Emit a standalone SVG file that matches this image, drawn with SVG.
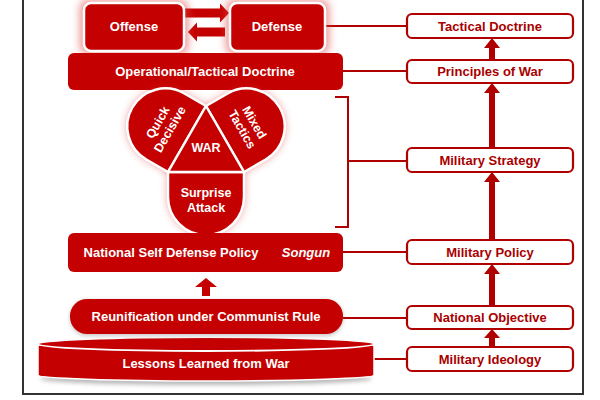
<svg xmlns="http://www.w3.org/2000/svg" width="600" height="400" viewBox="0 0 600 400">
<defs>
<style>
.red{fill:#c40000}
.wt{font-family:"Liberation Sans",Arial,sans-serif;font-weight:bold;font-size:13px;fill:#ffffff;text-anchor:middle}
.lt{font-size:12.5px}
.rt{font-family:"Liberation Sans",Arial,sans-serif;font-weight:bold;font-size:13px;fill:#a80000;text-anchor:middle}
.rbox{fill:#ffffff;stroke:#b00000;stroke-width:2.2}
.conn{stroke:#b00000;stroke-width:2;fill:none}
.arr{fill:#b00000}
.lobe{fill:#c40000;stroke:#ffffff;stroke-width:2.5;stroke-linejoin:round}
</style>
<filter id="glow" x="-30%" y="-30%" width="160%" height="160%">
<feGaussianBlur stdDeviation="4"/>
</filter>
<filter id="soft" x="-10%" y="-50%" width="120%" height="200%">
<feGaussianBlur stdDeviation="2"/>
</filter>
</defs>
<rect x="0" y="0" width="600" height="400" fill="#ffffff"/>
<rect x="23" y="-10" width="560" height="404" fill="none" stroke="#333333" stroke-width="2"/>

<g id="connectors">
<line class="conn" x1="325" y1="26" x2="407" y2="26"/>
<line class="conn" x1="343" y1="71" x2="407" y2="71"/>
<path class="conn" d="M335,97 H348 V227 H335 M348,161 H407" stroke-width="2.5"/>
<line class="conn" x1="343" y1="252" x2="407" y2="252"/>
<line class="conn" x1="343" y1="318" x2="407" y2="318"/>
<line class="conn" x1="372" y1="359" x2="407" y2="359"/>
<path class="arr" d="M489,60 V48 H484 L492,38 L500,48 H495 V60 Z"/>
<path class="arr" d="M489,148 V93 H484 L492,83 L500,93 H495 V148 Z"/>
<path class="arr" d="M489,240 V182 H484 L492,172 L500,182 H495 V240 Z"/>
<path class="arr" d="M489,306 V274 H484 L492,264 L500,274 H495 V306 Z"/>
<path class="arr" d="M489,347 V338 H484 L492,329 L500,338 H495 V347 Z"/>
<path class="red" d="M185,8.5 H220 V3.5 L229,13 L220,22.5 V17.5 H185 Z"/>
<path class="red" d="M225,27.5 H197 V22.5 L188,32 L197,41.5 V36.5 H225 Z"/>
<path class="red" d="M202,296 V287 H195 L206,278 L217,287 H210 V296 Z"/>
</g>

<g id="offense">
<rect x="80" y="0" width="108" height="54" rx="8" fill="#e04848" opacity="0.6" filter="url(#glow)"/>
<rect x="84" y="3" width="100" height="48" rx="7" class="red" stroke="#ffffff" stroke-width="2.5"/>
<text class="wt" x="134" y="31">Offense</text>
</g>
<g id="defense">
<rect x="226" y="0" width="103" height="54" rx="8" fill="#e04848" opacity="0.6" filter="url(#glow)"/>
<rect x="230" y="3" width="95" height="48" rx="7" class="red" stroke="#ffffff" stroke-width="2.5"/>
<text class="wt" x="277" y="31">Defense</text>
</g>
<g id="operational">
<rect x="68" y="53" width="275" height="37" rx="6" class="red"/>
<text class="wt" x="205" y="76">Operational/Tactical Doctrine</text>
</g>

<g id="war">
<path d="M206,106 L227.65,93.5 A38 38 0 0 1 265.65,159.5 L244,172 L244,197 A38 38 0 0 1 168,197 L168,172 L146.35,159.5 A38 38 0 0 1 184.35,93.5 Z" fill="#d83030" opacity="0.55" filter="url(#glow)"/>
<path class="lobe" d="M168,172 L146.35,159.5 A38 38 0 0 1 184.35,93.5 L206,106 Z"/>
<path class="lobe" d="M206,106 L227.65,93.5 A38 38 0 0 1 265.65,159.5 L244,172 Z"/>
<path class="lobe" d="M168,172 L168,197 A38 38 0 0 0 244,197 L244,172 Z"/>
<path class="lobe" d="M206,106 L168,172 L244,172 Z"/>
<text class="wt lt" x="206" y="152">WAR</text>
<g transform="translate(164,126) rotate(-60)">
<text class="wt lt" x="0" y="-3">Quick</text>
<text class="wt lt" x="0" y="11">Decisive</text>
</g>
<g transform="translate(248,126) rotate(60)">
<text class="wt lt" x="0" y="-3">Mixed</text>
<text class="wt lt" x="0" y="11">Tactics</text>
</g>
<text class="wt lt" x="206" y="197">Surprise</text>
<text class="wt lt" x="206" y="212">Attack</text>
</g>

<g id="nsdp">
<rect x="68" y="233" width="275" height="39" rx="6" class="red"/>
<text class="wt" x="171" y="257">National Self Defense Policy</text>
<text class="wt" x="306" y="257" font-style="italic">Songun</text>
</g>

<g id="lessons">
<ellipse cx="206" cy="379" rx="166" ry="6" fill="#888888" opacity="0.6" filter="url(#soft)"/>
<path class="red" d="M38,345 L38,375 A168 6 0 0 0 374,375 L374,345 Z" stroke="#ffffff" stroke-width="1.5"/>
<ellipse cx="206" cy="344" rx="168" ry="7" class="red" stroke="#ffffff" stroke-width="1.8"/>
<text class="wt" x="206" y="368">Lessons Learned from War</text>
</g>

<g id="reunification">
<rect x="70" y="300" width="273" height="36" rx="17" fill="#777777" opacity="0.4" filter="url(#soft)"/>
<rect x="70" y="299" width="273" height="35" rx="17" class="red"/>
<text class="wt" x="206" y="321">Reunification under Communist Rule</text>
</g>

<g id="tactical-doctrine"><rect class="rbox" x="407" y="14" width="166" height="24" rx="5"/><text class="rt" x="490" y="31">Tactical Doctrine</text></g>
<g id="principles"><rect class="rbox" x="407" y="60" width="166" height="23" rx="5"/><text class="rt" x="490" y="76">Principles of War</text></g>
<g id="strategy"><rect class="rbox" x="407" y="148" width="166" height="24" rx="5"/><text class="rt" x="490" y="165">Military Strategy</text></g>
<g id="policy"><rect class="rbox" x="407" y="240" width="166" height="24" rx="5"/><text class="rt" x="490" y="257">Military Policy</text></g>
<g id="objective"><rect class="rbox" x="407" y="306" width="166" height="23" rx="5"/><text class="rt" x="490" y="322">National Objective</text></g>
<g id="ideology"><rect class="rbox" x="407" y="347" width="166" height="24" rx="5"/><text class="rt" x="490" y="364">Military Ideology</text></g>
</svg>
